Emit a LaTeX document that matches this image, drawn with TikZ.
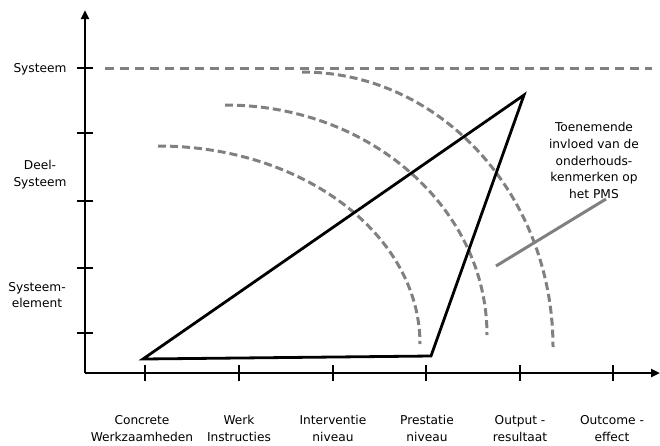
\documentclass[tikz,border=0pt]{standalone}
\usepackage{fontspec}
\setmainfont{DejaVu Sans}
\usetikzlibrary{arrows.meta}
\definecolor{dashgray}{RGB}{128,128,128}
\begin{document}
\begin{tikzpicture}[x=1pt,y=-1pt,
  axis/.style={line width=2.6pt,-{Triangle[length=9pt,width=8pt]}},
  tick/.style={line width=2.6pt},
  level/.style={dashgray,line width=3pt,dash pattern=on 9pt off 6pt},
  ring/.style={dashgray,line width=3pt,dash pattern=on 8pt off 4pt},
  triline/.style={line width=2.8pt,line join=miter},
  lbl/.style={font=\fontsize{12.2}{16.8}\selectfont,align=center,inner sep=0pt}]
\useasboundingbox (0,0) rectangle (660,445);

% axes
\coordinate (O) at (85,373);
\coordinate (ytop) at (85,10);
\coordinate (xend) at (660,373);
\draw[axis] (O) -- (ytop);
\draw[axis] (O) -- (xend);

% ticks on the vertical axis
\foreach \y in {68,133,201,268,333}
  \draw[tick] (77,\y) -- (93,\y);
% ticks on the horizontal axis
\foreach \x in {145,239,333,426,520,613}
  \draw[tick] (\x,365) -- (\x,381);

% system level line
\coordinate (sysL) at (105,68);
\coordinate (sysR) at (652,68);
\draw[level] (sysL) -- (sysR);

% influence rings
\draw[ring] (158,146) arc[start angle=-90,end angle=0,x radius=262,y radius=198];
\draw[ring] (225,105) arc[start angle=-90,end angle=0,x radius=262,y radius=230];
\draw[ring] (302,72) arc[start angle=-90,end angle=0,x radius=251,y radius=275];

% triangle
\coordinate (tA) at (143,359);
\coordinate (tB) at (431,356);
\coordinate (tC) at (524,95);
\draw[triline] (tA) -- (tB) -- (tC) -- cycle;

% influence direction
\coordinate (inS) at (496,266);
\coordinate (inE) at (606,199);
\draw[dashgray,line width=3pt] (inS) -- (inE);

% labels
\node[lbl] (ly1) at (40,69) {Systeem};
\node[lbl] (ly2) at (40,175) {Deel-\\Systeem};
\node[lbl] (ly3) at (37,295) {Systeem-\\element};

\node[lbl] (lx1) at (142,428.5) {Concrete\\Werkzaamheden};
\node[lbl] (lx2) at (239,428.5) {Werk\\Instructies};
\node[lbl] (lx3) at (333,428.5) {Interventie\\niveau};
\node[lbl] (lx4) at (427,428.5) {Prestatie\\niveau};
\node[lbl] (lx5) at (520,428.5) {Output -\\resultaat};
\node[lbl] (lx6) at (612,428.5) {Outcome -\\effect};

\node[lbl] (note) at (594,160.5) {Toenemende\\invloed van de\\onderhouds-\\kenmerken op\\het PMS};
\end{tikzpicture}
\end{document}
